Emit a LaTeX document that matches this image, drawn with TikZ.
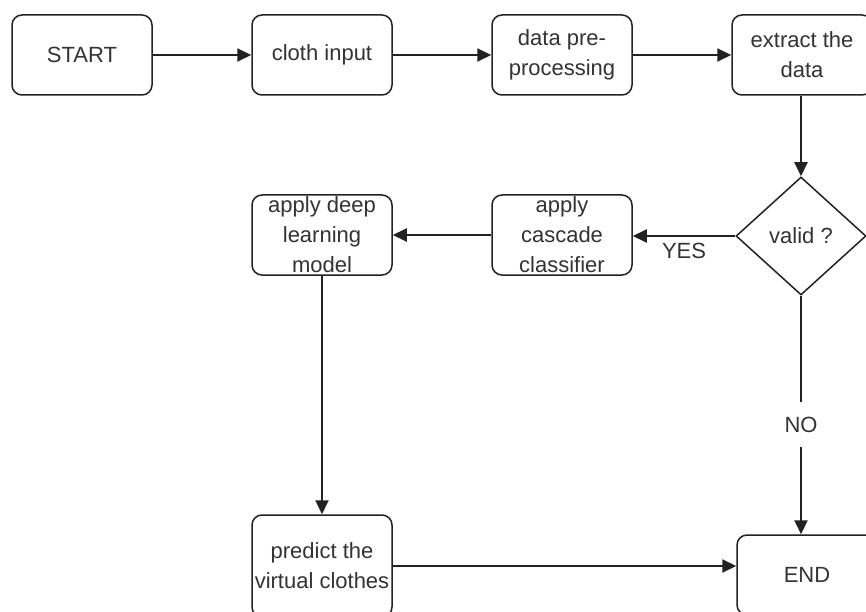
\documentclass[tikz,border=0pt]{standalone}
\usepackage{fontspec}
\setmainfont{Liberation Sans}
\usetikzlibrary{arrows.meta,shapes.geometric}
\definecolor{ink}{HTML}{222222}
\definecolor{txt}{HTML}{333333}
\begin{document}
\begin{tikzpicture}[x=1pt,y=-1pt,
  box/.style={draw=ink,line width=1.5pt,rounded corners=10pt,minimum width=140pt,minimum height=80pt,
    align=center,inner sep=0pt,font=\fontsize{22}{30}\selectfont,text=txt,fill=white},
  dec/.style={draw=ink,line width=1.5pt,diamond,minimum width=130pt,minimum height=118pt,inner sep=0pt,
    aspect=1.1,font=\fontsize{22}{30}\selectfont,text=txt,fill=white},
  lab/.style={font=\fontsize{22}{30}\selectfont,text=txt,fill=white,inner xsep=2pt,inner ysep=15pt},
  arr/.style={draw=ink,line width=2pt,-{Triangle[length=14pt,width=13pt]}}]
\useasboundingbox (0,0) rectangle (866,612);
\clip (0,0) rectangle (866,612);
\fill[white] (0,0) rectangle (866,612);
\node[box] (start) at (82,55) {START};
\node[box] (cloth) at (322,55) {cloth input};
\node[box] (pre) at (562,55) {data pre-\\processing};
\node[box] (ext) at (802,55) {extract the\\data};
\node[dec] (valid) at (801,236) {valid ?};
\node[box] (casc) at (562,235) {apply\\cascade\\classifier};
\node[box] (deep) at (322,235) {apply deep\\learning\\model};
\node[box,minimum height=102pt] (pred) at (322,566) {predict the\\virtual clothes};
\node[box] (end) at (807,575) {END};
\draw[arr] (start) -- (cloth);
\draw[arr] (cloth) -- (pre);
\draw[arr] (pre) -- (ext);
\draw[arr] (ext.south -| valid.north) -- (valid.north);
\draw[arr] (valid.west) -- (casc.east |- valid.west) node[pos=0.5,below=3pt,font=\fontsize{22}{30}\selectfont,text=txt] {YES};
\draw[arr] (casc) -- (deep);
\draw[arr] (deep) -- (pred);
\draw[arr] (valid.south) -- (valid.south |- end.north) node[pos=0.54,lab] {NO};
\draw[arr] (pred) -- (end.west |- pred);
\end{tikzpicture}
\end{document}
